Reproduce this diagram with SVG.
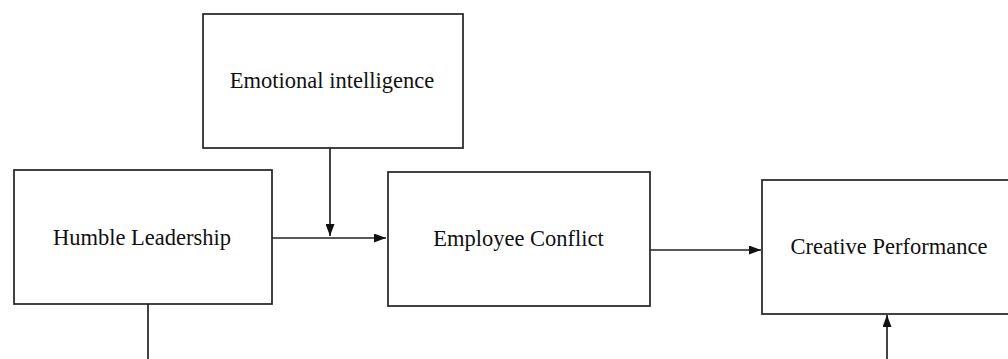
<svg xmlns="http://www.w3.org/2000/svg" width="1008" height="359" viewBox="0 0 1008 359">
<style>
.box{fill:#fff;stroke:#222;stroke-width:1.7}
.lbl{font-family:"Liberation Serif","Times New Roman",serif;font-size:22.5px;fill:#111;text-anchor:middle}
.conn{stroke:#222;stroke-width:1.7;fill:none}
</style>
<defs>
<marker id="arr" markerWidth="12" markerHeight="9" refX="12" refY="4.5" orient="auto" markerUnits="userSpaceOnUse">
<path d="M0,0 L12,4.5 L0,9 Z" fill="#111"/>
</marker>
</defs>
<rect width="1008" height="359" fill="#fff"/>
<g id="emotional-intelligence">
<rect class="box" x="203" y="14" width="260" height="134"/>
<text class="lbl" x="332" y="88">Emotional intelligence</text>
</g>
<g id="humble-leadership">
<rect class="box" x="14" y="170" width="258" height="134"/>
<text class="lbl" x="142" y="245">Humble Leadership</text>
</g>
<g id="employee-conflict">
<rect class="box" x="388" y="172" width="262" height="134"/>
<text class="lbl" x="518.5" y="246">Employee Conflict</text>
</g>
<g id="creative-performance">
<rect class="box" x="762" y="180" width="260" height="134"/>
<text class="lbl" x="889" y="254">Creative Performance</text>
</g>
<g id="connectors">
<line class="conn" x1="272" y1="238" x2="386" y2="238" marker-end="url(#arr)"/>
<line class="conn" x1="330" y1="148" x2="330" y2="236" marker-end="url(#arr)"/>
<line class="conn" x1="650" y1="250" x2="761" y2="250" marker-end="url(#arr)"/>
<line class="conn" x1="148" y1="304" x2="148" y2="359"/>
<line class="conn" x1="887" y1="359" x2="887" y2="315" marker-end="url(#arr)"/>
</g>
</svg>
